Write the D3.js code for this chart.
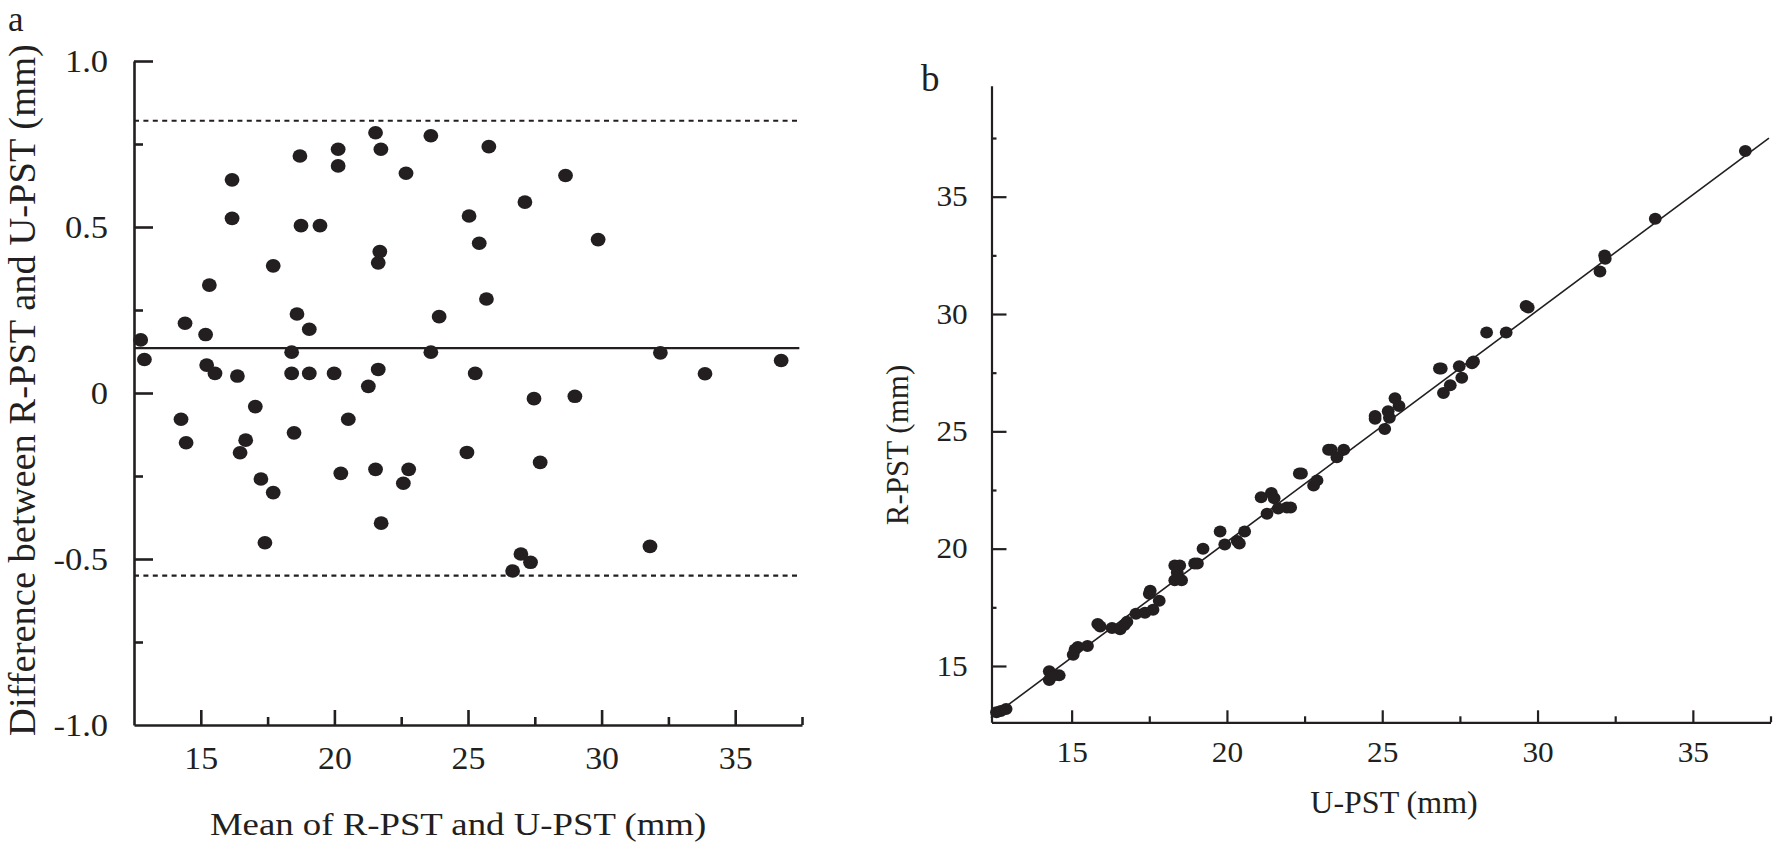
<!DOCTYPE html>
<html><head><meta charset="utf-8">
<script src="https://cdn.jsdelivr.net/npm/d3@7"></script>
<style>
body{margin:0;background:#fff}
svg{display:block;background:#fff}
text{font-family:"Liberation Serif","Times New Roman",serif;fill:#231f20}
</style>
</head><body>
<svg id="c" width="1776" height="844"></svg>
<script>
// ---------- Panel a data (Bland-Altman) ----------
const aMeans = [12.75,12.89,14.26,14.41,14.45,15.18,15.22,15.32,15.53,16.17,16.17,16.37,16.47,16.68,17.04,17.25,17.40,17.71,17.71,18.40,18.40,18.49,18.60,18.71,18.75,19.06,19.06,19.46,19.99,20.14,20.14,20.24,20.52,21.27,21.54,21.54,21.64,21.70,21.64,21.74,21.75,22.58,22.68,22.78,23.61,23.61,23.92,24.96,25.04,25.27,25.42,25.69,25.78,26.67,26.98,27.13,27.34,27.47,27.70,28.65,29.00,29.87,31.81,32.20,33.87,36.72];
const aDiffs = [0.160,0.101,-0.079,0.210,-0.150,0.176,0.084,0.325,0.059,0.642,0.526,0.051,-0.180,-0.142,-0.041,-0.259,-0.451,0.383,-0.300,0.123,0.059,-0.120,0.238,0.714,0.504,0.192,0.059,0.504,0.059,0.734,0.684,-0.242,-0.079,0.020,0.784,-0.230,0.392,0.426,0.071,0.734,-0.392,-0.272,0.662,-0.230,0.775,0.123,0.230,-0.179,0.533,0.059,0.451,0.283,0.742,-0.536,-0.485,0.575,-0.510,-0.017,-0.209,0.655,-0.010,0.462,-0.462,0.121,0.058,0.098];
const aMeanDiff = 0.135;
const aUpperLoA = 0.82;
const aLowerLoA = -0.55;
const aXTickValues = [15,20,25,30,35];
const aXTickLabels = ["15","20","25","30","35"];
const aXMinorTicks = [17.5,22.5,27.5,32.5,37.5];
const aYTickValues = [-1,-0.5,0,0.5,1];
const aYTickLabels = ["-1.0","-0.5","0","0.5","1.0"];
const aYMinorTicks = [-0.75,-0.25,0.25,0.75];
const aXTitle = "Mean of R-PST and U-PST (mm)";
const aYTitle = "Difference between R-PST and U-PST (mm)";

// ---------- Panel b data (correlation) ----------
const bU = [12.58,12.72,12.89,14.28,14.28,14.47,14.60,15.05,15.11,15.20,15.51,15.84,15.92,16.30,16.56,16.70,16.78,17.07,17.36,17.62,17.53,17.50,17.82,18.32,18.48,18.32,18.54,18.40,18.96,19.05,19.23,19.78,19.93,20.33,20.40,20.57,21.10,21.29,21.43,21.52,21.65,21.93,22.05,22.33,22.40,22.79,22.90,23.27,23.36,23.54,23.76,24.77,24.77,25.08,25.19,25.23,25.41,25.54,26.84,26.90,26.97,27.19,27.48,27.56,27.89,27.94,28.36,28.99,29.63,29.70,32.01,32.16,32.18,33.79,36.69];
const bR = [13.03,13.08,13.17,14.78,14.40,14.62,14.60,15.48,15.70,15.81,15.85,16.79,16.68,16.62,16.57,16.75,16.88,17.23,17.27,17.40,18.21,18.08,17.78,19.28,19.28,18.65,18.65,18.98,19.37,19.37,20.00,20.73,20.18,20.33,20.22,20.73,22.19,21.49,22.37,22.15,21.71,21.75,21.75,23.20,23.20,22.69,22.91,24.22,24.22,23.90,24.22,25.54,25.65,25.10,25.86,25.58,26.41,26.08,27.68,27.68,26.63,26.96,27.77,27.28,27.90,27.98,29.21,29.21,30.34,30.28,31.81,32.49,32.36,34.06,36.95];
const bFitU = [12.4,37.45];
const bFitR = [12.8,37.5];
const bXTickValues = [15,20,25,30,35];
const bXTickLabels = ["15","20","25","30","35"];
const bXMinorTicks = [17.5,22.5,27.5,32.5,37.5];
const bYTickValues = [15,20,25,30,35];
const bYTickLabels = ["15","20","25","30","35"];
const bYMinorTicks = [17.5,22.5,27.5,32.5,37.5];
const bXTitle = "U-PST (mm)";
const bYTitle = "R-PST (mm)";

const ink = "#231f20";
const svg = d3.select("#c");

function styleAxis(g, w, keepDomain){
  g.attr("font-size", null).attr("font-family", null);
  g.selectAll("line").attr("stroke", ink).attr("stroke-width", w);
  if (keepDomain) g.select(".domain").attr("stroke", ink).attr("stroke-width", w);
  else g.select(".domain").remove();
}
function labelAxis(g, size, sx){
  g.attr("font-size", null).attr("font-family", null);
  g.select(".domain").remove();
  g.selectAll("line").remove();
  g.selectAll("text").attr("font-size", size).attr("fill", ink)
   .attr("transform", `scale(${sx},1)`);
}

// ================= Panel a =================
const xA = d3.scaleLinear().domain([12.5, 37.5]).range([134, 802]);
const yA = d3.scaleLinear().domain([-1, 1]).range([725, 61]);
const gA = svg.append("g");

// reference lines
gA.append("line").attr("x1", xA(12.5)).attr("x2", xA(37.4)).attr("y1", yA(aMeanDiff)).attr("y2", yA(aMeanDiff))
  .attr("stroke", ink).attr("stroke-width", 2.2);
[aUpperLoA, aLowerLoA].forEach(v => {
  gA.append("line").attr("x1", xA(12.5)).attr("x2", xA(37.4)).attr("y1", yA(v)).attr("y2", yA(v))
    .attr("stroke", ink).attr("stroke-width", 2.2).attr("stroke-dasharray", "5,4.4");
});

// points
gA.append("g").selectAll("ellipse").data(aMeans.map((m, i) => [m, aDiffs[i]])).join("ellipse")
  .attr("cx", d => xA(d[0])).attr("cy", d => yA(d[1])).attr("rx", 7.4).attr("ry", 6.8).attr("fill", ink);

// y axis (ticks inward to the right)
gA.append("g").attr("transform", "translate(134,0)")
  .call(d3.axisRight(yA).tickValues(aYMinorTicks).tickSize(9).tickSizeOuter(0).tickFormat(""))
  .call(g => styleAxis(g, 2.6, true));
gA.append("g").attr("transform", "translate(134,0)")
  .call(d3.axisRight(yA).tickValues(aYTickValues.filter(v => v > -1)).tickSize(19).tickFormat(""))
  .call(g => styleAxis(g, 2.6, false));
gA.append("g").attr("transform", "translate(134,0)")
  .call(d3.axisLeft(yA).tickValues(aYTickValues).tickSize(0).tickPadding(24)
    .tickFormat((d, i) => aYTickLabels[i]))
  .call(g => labelAxis(g, 32, 1.08));

// x axis (ticks inward upward)
gA.append("g").attr("transform", "translate(0,725)")
  .call(d3.axisTop(xA).tickValues(aXMinorTicks).tickSize(8).tickSizeOuter(0).tickFormat(""))
  .call(g => styleAxis(g, 2.6, true));
gA.append("g").attr("transform", "translate(0,725)")
  .call(d3.axisTop(xA).tickValues(aXTickValues).tickSize(15).tickFormat(""))
  .call(g => styleAxis(g, 2.6, false));
gA.append("g").attr("transform", "translate(0,725)")
  .call(d3.axisBottom(xA).tickValues(aXTickValues).tickSize(0).tickPadding(21)
    .tickFormat((d, i) => aXTickLabels[i]))
  .call(g => labelAxis(g, 32, 1.06));

// titles
gA.append("text").attr("transform", "translate(458,835) scale(1.15,1)").attr("text-anchor", "middle")
  .attr("font-size", 32).text(aXTitle);
gA.append("text").attr("transform", "translate(35,390) rotate(-90)").attr("text-anchor", "middle")
  .attr("font-size", 38.5).text(aYTitle);
gA.append("text").attr("x", 8).attr("y", 31).attr("font-size", 35).text("a");

// ================= Panel b =================
const xB = d3.scaleLinear().domain([12.42, 37.5]).range([991.5, 1770.5]);
const yB = d3.scaleLinear().domain([12.6, 39.73]).range([722.3, 85.7]);
const gB = svg.append("g");

// fit line
gB.append("line").attr("x1", xB(bFitU[0])).attr("y1", yB(bFitR[0])).attr("x2", xB(bFitU[1])).attr("y2", yB(bFitR[1]))
  .attr("stroke", ink).attr("stroke-width", 1.6);

// points
gB.append("g").selectAll("ellipse").data(bU.map((u, i) => [u, bR[i]])).join("ellipse")
  .attr("cx", d => xB(d[0])).attr("cy", d => yB(d[1])).attr("rx", 6.4).attr("ry", 6.0).attr("fill", ink);

// y axis
gB.append("g").attr("transform", "translate(991.5,0)")
  .call(d3.axisRight(yB).tickValues(bYMinorTicks).tickSize(5).tickSizeOuter(0).tickFormat(""))
  .call(g => styleAxis(g, 2.2, true));
gB.append("g").attr("transform", "translate(991.5,0)")
  .call(d3.axisRight(yB).tickValues(bYTickValues).tickSize(15).tickFormat(""))
  .call(g => styleAxis(g, 2.2, false));
gB.append("g").attr("transform", "translate(991.5,0)")
  .call(d3.axisLeft(yB).tickValues(bYTickValues).tickSize(0).tickPadding(22)
    .tickFormat((d, i) => bYTickLabels[i]))
  .call(g => labelAxis(g, 29, 1.08));

// x axis
gB.append("g").attr("transform", "translate(0,722.3)")
  .call(d3.axisTop(xB).tickValues(bXMinorTicks).tickSize(6).tickSizeOuter(0).tickFormat(""))
  .call(g => styleAxis(g, 2.2, true));
gB.append("g").attr("transform", "translate(0,722.3)")
  .call(d3.axisTop(xB).tickValues(bXTickValues).tickSize(12).tickFormat(""))
  .call(g => styleAxis(g, 2.2, false));
gB.append("g").attr("transform", "translate(0,722.3)")
  .call(d3.axisBottom(xB).tickValues(bXTickValues).tickSize(0).tickPadding(19)
    .tickFormat((d, i) => bXTickLabels[i]))
  .call(g => labelAxis(g, 29, 1.08));

// titles
gB.append("text").attr("x", 1394).attr("y", 813).attr("text-anchor", "middle")
  .attr("font-size", 32).text(bXTitle);
gB.append("text").attr("transform", "translate(908,445) rotate(-90)").attr("text-anchor", "middle")
  .attr("font-size", 31).text(bYTitle);
gB.append("text").attr("x", 921).attr("y", 91).attr("font-size", 37).text("b");
</script>
</body></html>
